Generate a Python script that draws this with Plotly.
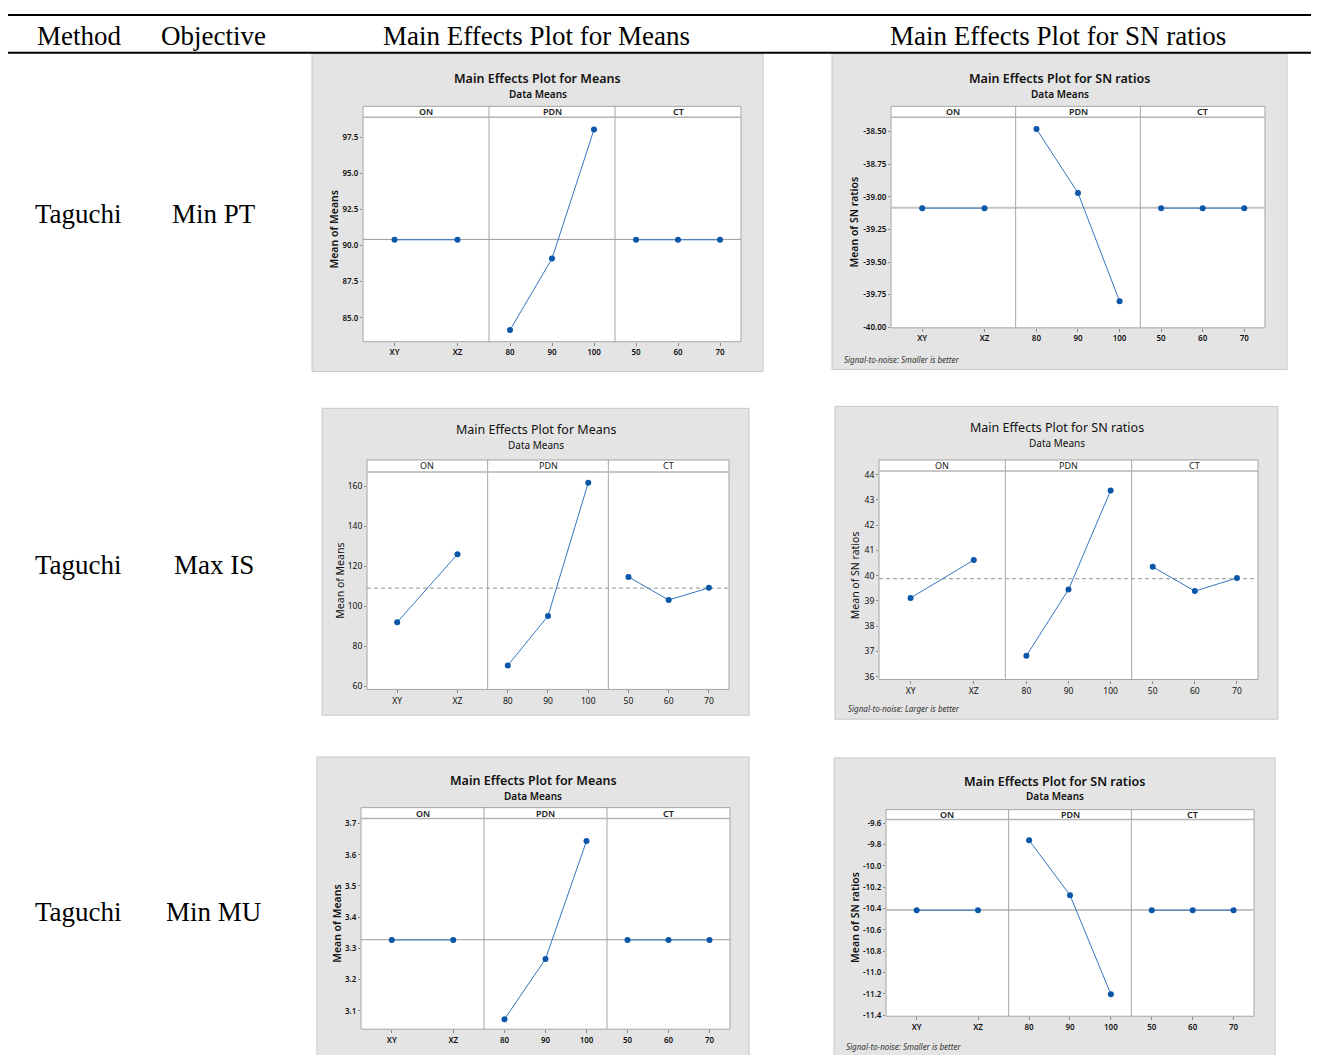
import numpy as np
import plotly.graph_objects as go

# page body has an 8px default margin: figure is drawn offset by 8px
OFF = 8
W, H = 1319 - OFF, 1055 - OFF

# ---------------- data ----------------
on_levels = ["XY", "XZ"]
pdn_levels = ["80", "90", "100"]
ct_levels = ["50", "60", "70"]

# Min PT
pt_means_on = [90.4, 90.4]
pt_means_pdn = [84.15, 89.1, 98.03]
pt_means_ct = [90.4, 90.4, 90.4]
pt_sn_on = [-39.087, -39.087]
pt_sn_pdn = [-38.48, -38.97, -39.80]
pt_sn_ct = [-39.087, -39.087, -39.087]

# Max IS
is_means_on = [91.95, 126.05]
is_means_pdn = [70.3, 95.1, 161.85]
is_means_ct = [114.7, 103.1, 109.2]
is_sn_on = [39.12, 40.62]
is_sn_pdn = [36.83, 39.45, 43.37]
is_sn_ct = [40.35, 39.39, 39.91]

# Min MU
mu_means_on = [3.327, 3.327]
mu_means_pdn = [3.073, 3.266, 3.644]
mu_means_ct = [3.327, 3.327, 3.327]
mu_sn_on = [-10.416, -10.416]
mu_sn_pdn = [-9.76, -10.275, -11.204]
mu_sn_ct = [-10.416, -10.416, -10.416]

# y tick values
pt_means_ticks = [85.0, 87.5, 90.0, 92.5, 95.0, 97.5]
pt_sn_ticks = [-40.00, -39.75, -39.50, -39.25, -39.00, -38.75, -38.50]
is_means_ticks = [60, 80, 100, 120, 140, 160]
is_sn_ticks = [36, 37, 38, 39, 40, 41, 42, 43, 44]
mu_means_ticks = [3.1, 3.2, 3.3, 3.4, 3.5, 3.6, 3.7]
mu_sn_ticks = [-11.4, -11.2, -11.0, -10.8, -10.6, -10.4, -10.2, -10.0, -9.8, -9.6]

factor_names = ["ON", "PDN", "CT"]
header_labels = ["Method", "Objective", "Main Effects Plot for Means", "Main Effects Plot for SN ratios"]
methods = ["Taguchi", "Taguchi", "Taguchi"]
objectives = ["Min PT", "Max IS", "Min MU"]
means_title = "Main Effects Plot for Means"
sn_title = "Main Effects Plot for SN ratios"
subtitle = "Data Means"
means_ylabel = "Mean of Means"
sn_ylabel = "Mean of SN ratios"
note_smaller = "Signal-to-noise: Smaller is better"
note_larger = "Signal-to-noise: Larger is better"


# ---------------- helpers ----------------
def px(x):
    return (x - OFF) / W


def py(y):
    return 1 - (y - OFF) / H


SANS = "Noto Sans"
SERIF = "Liberation Serif"
BLUE_MK = "#0a56a8"
BLUE_LN = "#3575c0"
FRAME = "#a4a4a4"
PANEL_BG = "#e4e4e4"

panels = [
    dict(vals=[pt_means_on, pt_means_pdn, pt_means_ct], box=(312, 51, 763, 371),
         L=363, R=741, T=104, S=115, B=341, ty=76, sy=92, yx=334,
         yr=[83.34, 98.88], ticks=pt_means_ticks, fmt="{:.1f}", title=means_title,
         ylab=means_ylabel, note=None, dash="solid", refc="#9a9a9a", refw=1, bold=True),
    dict(vals=[pt_sn_on, pt_sn_pdn, pt_sn_ct], box=(832, 51, 1287, 369),
         L=891, R=1265, T=104, S=115, B=327, ty=76, sy=92, yx=854,
         yr=[-40.005, -38.39], ticks=pt_sn_ticks, fmt="{:.2f}", title=sn_title,
         ylab=sn_ylabel, note=(842, 359, note_smaller), dash="solid", refc="#c4c4c4", refw=2, bold=True),
    dict(vals=[is_means_on, is_means_pdn, is_means_ct], box=(322, 408, 749, 717),
         L=367, R=729, T=460, S=472, B=691, ty=429, sy=445, yx=340,
         yr=[58.3, 167.3], ticks=is_means_ticks, fmt="{:d}", title=means_title,
         ylab=means_ylabel, note=None, dash="4px,3px", refc="#a8a8a8", refw=1.2, bold=False),
    dict(vals=[is_sn_on, is_sn_pdn, is_sn_ct], box=(835, 406, 1278, 721),
         L=879, R=1258, T=460, S=471, B=681, ty=427, sy=443, yx=855,
         yr=[35.89, 44.15], ticks=is_sn_ticks, fmt="{:d}", title=sn_title,
         ylab=sn_ylabel, note=(846, 710, note_larger), dash="4px,3px", refc="#a8a8a8", refw=1.2, bold=False),
    dict(vals=[mu_means_on, mu_means_pdn, mu_means_ct], box=(317, 759, 749, 1062),
         L=361, R=730, T=810, S=821, B=1033, ty=783, sy=798, yx=337,
         yr=[3.041, 3.716], ticks=mu_means_ticks, fmt="{:.1f}", title=means_title,
         ylab=means_ylabel, note=None, dash="solid", refc="#9a9a9a", refw=1, bold=True),
    dict(vals=[mu_sn_on, mu_sn_pdn, mu_sn_ct], box=(834, 760, 1275, 1062),
         L=886, R=1254, T=812, S=822, B=1020, ty=784, sy=798, yx=855,
         yr=[-11.41, -9.566], ticks=mu_sn_ticks, fmt="{:.1f}", title=sn_title,
         ylab=sn_ylabel, note=(844, 1050, note_smaller), dash="solid", refc="#c4c4c4", refw=2, bold=True),
]

level_sets = [on_levels, pdn_levels, ct_levels]

fig = go.Figure()
shapes = []
annotations = []
axes_layout = {}
k = 0

for p in panels:
    wt = 600 if p["bold"] else 400
    tsz = 8 if p["bold"] else 8.5
    bx0, by0, bx1, by1 = p["box"]
    L, R, T, S, B = p["L"], p["R"], p["T"], p["S"], p["B"]
    # panel background
    shapes.append(dict(type="rect", xref="paper", yref="paper", layer="below",
                       x0=px(bx0), x1=px(bx1), y0=py(by1), y1=py(by0),
                       fillcolor=PANEL_BG, line=dict(color="#c8c8c8", width=1)))
    # plot area (incl. strip)
    shapes.append(dict(type="rect", xref="paper", yref="paper", layer="below",
                       x0=px(L), x1=px(R), y0=py(B), y1=py(T),
                       fillcolor="white", line=dict(color=FRAME, width=1)))
    fw = (R - L) / 3.0
    first_y = None
    tick_text = [p["fmt"].format(v) for v in p["ticks"]]
    for i in range(3):
        k += 1
        xn = "x" if k == 1 else f"x{k}"
        yn = "y" if k == 1 else f"y{k}"
        xk = "xaxis" if k == 1 else f"xaxis{k}"
        yk = "yaxis" if k == 1 else f"yaxis{k}"
        if first_y is None:
            first_y = yn
        l = L + i * fw
        r = L + (i + 1) * fw
        levels = level_sets[i]
        axes_layout[xk] = dict(domain=[px(l), px(r)], anchor=yn, type="category",
                               categoryorder="array", categoryarray=levels,
                               range=[-0.5, len(levels) - 0.5],
                               showgrid=False, zeroline=False, showline=False,
                               ticks="outside", ticklen=3, tickcolor="#8a8a8a",
                               tickfont=dict(family=SANS, size=tsz, color="#111", weight=wt),
                               fixedrange=True)
        axes_layout[yk] = dict(domain=[py(B), py(S)], anchor=xn, range=p["yr"],
                               showgrid=False, zeroline=False, showline=False,
                               showticklabels=(i == 0), ticks="outside" if i == 0 else "",
                               ticklen=2, tickcolor="#8a8a8a",
                               tickmode="array", tickvals=p["ticks"], ticktext=tick_text,
                               tickfont=dict(family=SANS, size=tsz, color="#111", weight=wt),
                               fixedrange=True)
        fig.add_trace(go.Scatter(x=levels, y=p["vals"][i], xaxis=xn, yaxis=yn,
                                 mode="lines+markers", showlegend=False, hoverinfo="skip",
                                 line=dict(color=BLUE_LN, width=1),
                                 marker=dict(color=BLUE_MK, size=6)))
        # strip label
        annotations.append(dict(xref="paper", yref="paper", x=px((l + r) / 2), y=py((T + S) / 2),
                                text=factor_names[i], showarrow=False, xanchor="center", yanchor="middle",
                                font=dict(family=SANS, size=9, color="#222", weight=wt)))
    # overall mean reference line
    grand = float(np.mean(p["vals"][1]))
    shapes.append(dict(type="line", xref="paper", yref=first_y, layer="below",
                       x0=px(L), x1=px(R), y0=grand, y1=grand,
                       line=dict(color=p["refc"], width=p["refw"], dash=p["dash"])))
    # facet separators
    for i in (1, 2):
        xs = L + i * fw
        shapes.append(dict(type="line", xref="paper", yref="paper", layer="below",
                           x0=px(xs), x1=px(xs), y0=py(B), y1=py(T),
                           line=dict(color=FRAME, width=1)))
    # strip bottom line
    shapes.append(dict(type="line", xref="paper", yref="paper", layer="below",
                       x0=px(L), x1=px(R), y0=py(S), y1=py(S),
                       line=dict(color="#b4b4b4", width=1.5)))
    # titles
    cx = (bx0 + bx1) / 2
    annotations.append(dict(xref="paper", yref="paper", x=px(cx), y=py(p["ty"]), text=p["title"],
                            showarrow=False, xanchor="center", yanchor="middle",
                            font=dict(family=SANS, size=12.5, color="#111", weight=wt)))
    annotations.append(dict(xref="paper", yref="paper", x=px(cx), y=py(p["sy"]), text=subtitle,
                            showarrow=False, xanchor="center", yanchor="middle",
                            font=dict(family=SANS, size=10, color="#111", weight=wt)))
    annotations.append(dict(xref="paper", yref="paper", x=px(p["yx"]), y=py((S + B) / 2), text=p["ylab"],
                            showarrow=False, xanchor="center", yanchor="middle", textangle=-90,
                            font=dict(family=SANS, size=10.5, color="#111", weight=wt)))
    if p["note"] is not None:
        nx, ny, nt = p["note"]
        annotations.append(dict(xref="paper", yref="paper", x=px(nx), y=py(ny), text=f"<i>{nt}</i>",
                                showarrow=False, xanchor="left", yanchor="middle",
                                font=dict(family=SANS, size=8, color="#333")))

# ---------------- table ----------------
for yline in (12, 50):
    shapes.append(dict(type="line", xref="paper", yref="paper", layer="above",
                       x0=px(8), x1=px(1319), y0=py(yline), y1=py(yline),
                       line=dict(color="black", width=2)))

header_x = [78.5, 213.5, 536.5, 1057.5]
for hx, ht in zip(header_x, header_labels):
    annotations.append(dict(xref="paper", yref="paper", x=px(hx), y=py(33), text=ht,
                            showarrow=False, xanchor="center", yanchor="middle",
                            font=dict(family=SERIF, size=27, color="black")))

row_y = [212, 566, 915]
for ry, m, o in zip(row_y, methods, objectives):
    annotations.append(dict(xref="paper", yref="paper", x=px(78.5), y=py(ry), text=m,
                            showarrow=False, xanchor="center", yanchor="middle",
                            font=dict(family=SERIF, size=27, color="black")))
    annotations.append(dict(xref="paper", yref="paper", x=px(213.5), y=py(ry), text=o,
                            showarrow=False, xanchor="center", yanchor="middle",
                            font=dict(family=SERIF, size=27, color="black")))

fig.update_layout(width=W, height=H, margin=dict(l=0, r=0, t=0, b=0),
                  paper_bgcolor="white", plot_bgcolor="rgba(0,0,0,0)",
                  shapes=shapes, annotations=annotations, showlegend=False,
                  **axes_layout)

fig.write_html("out.html")
